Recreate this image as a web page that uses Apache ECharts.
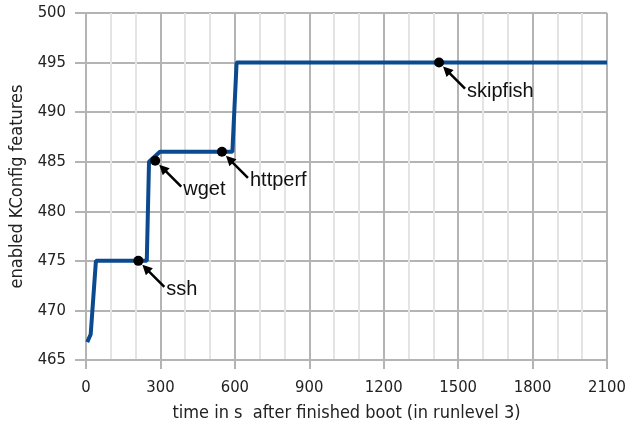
<!DOCTYPE html>
<html>
<head>
<meta charset="utf-8">
<script src="https://cdn.jsdelivr.net/npm/echarts@6/dist/echarts.min.js"></script>
<style>html,body{margin:0;padding:0;background:#fff}#c{width:639px;height:425px}</style>
</head>
<body>
<div id="c"></div>
<script>
// Step curve of enabled KConfig features over time
const times = [5, 19, 40, 245, 254, 298, 590, 607, 2100];
const features = [466.8, 467.6, 475, 475, 485, 486, 486, 495, 495];
// Annotated events
const eventNames = ['ssh', 'wget', 'httperf', 'skipfish'];
const eventTimes = [211, 279, 548, 1423];
const eventValues = [475, 485.1, 486, 495];
// Axis ticks
const xTicks = [0, 300, 600, 900, 1200, 1500, 1800, 2100];
const yTicks = [465, 470, 475, 480, 485, 490, 495, 500];

const chart = echarts.init(document.getElementById('c'), null, {renderer: 'canvas'});
const major = '#b4b4b4', minor = '#e4e4e4';
const tickFont = '"DejaVu Sans Condensed", "DejaVu Sans", sans-serif';

chart.setOption({
  animation: false,
  grid: {left: 86, right: 32, top: 13, bottom: 65, outerBoundsMode: 'none', containLabel: false},
  xAxis: {
    type: 'value', min: xTicks[0], max: xTicks[xTicks.length - 1], interval: 300,
    name: 'time in s  after finished boot (in runlevel 3)',
    nameLocation: 'middle', nameGap: 44,
    nameTextStyle: {fontFamily: tickFont, fontSize: 18, color: '#222'},
    axisLine: {show: true, lineStyle: {color: major, width: 2}},
    axisTick: {show: true, length: 9, lineStyle: {color: major, width: 2}},
    axisLabel: {fontFamily: tickFont, fontSize: 16.5, color: '#222', margin: 19,
      formatter: v => String(v)},
    splitLine: {show: true, lineStyle: {color: major, width: 2}},
    minorTick: {show: true, splitNumber: 3, length: 0},
    minorSplitLine: {show: true, lineStyle: {color: minor, width: 2}}
  },
  yAxis: {
    type: 'value', min: yTicks[0], max: yTicks[yTicks.length - 1], interval: 5,
    name: 'enabled KConfig features',
    nameLocation: 'middle', nameGap: 58, nameRotate: 90,
    nameTextStyle: {fontFamily: tickFont, fontSize: 18, color: '#222'},
    axisLine: {show: true, lineStyle: {color: major, width: 2}},
    axisTick: {show: true, length: 11, lineStyle: {color: major, width: 2}},
    axisLabel: {fontFamily: tickFont, fontSize: 16.5, color: '#222', margin: 20,
      formatter: v => String(v)},
    splitLine: {show: true, lineStyle: {color: major, width: 2}}
  },
  series: [
    {
      type: 'line',
      data: times.map((t, i) => [t, features[i]]),
      symbol: 'none',
      lineStyle: {color: '#0b4a8e', width: 4},
      z: 3
    },
    {
      type: 'custom',
      data: eventTimes.map((t, i) => [t, eventValues[i], eventNames[i]]),
      z: 5,
      renderItem: function (params, api) {
        const p = api.coord([api.value(0), api.value(1)]);
        const name = eventNames[params.dataIndex];
        const x = p[0], y = p[1];
        return {
          type: 'group',
          children: [
            {type: 'circle', shape: {cx: x, cy: y, r: 5}, style: {fill: '#000'}},
            {type: 'line', shape: {x1: x + 10, y1: y + 10, x2: x + 26, y2: y + 26},
              style: {stroke: '#000', lineWidth: 2.5}},
            {type: 'polygon', shape: {points: [[x + 4, y + 4], [x + 14.5, y + 7.5], [x + 7.5, y + 14.5]]},
              style: {fill: '#000'}},
            {type: 'text', style: {text: name, x: x + 28, y: y + 29,
              verticalAlign: 'middle', align: 'left',
              font: '20px "Liberation Sans", Arial, sans-serif', fill: '#111'}}
          ]
        };
      }
    }
  ]
});
</script>
</body>
</html>
